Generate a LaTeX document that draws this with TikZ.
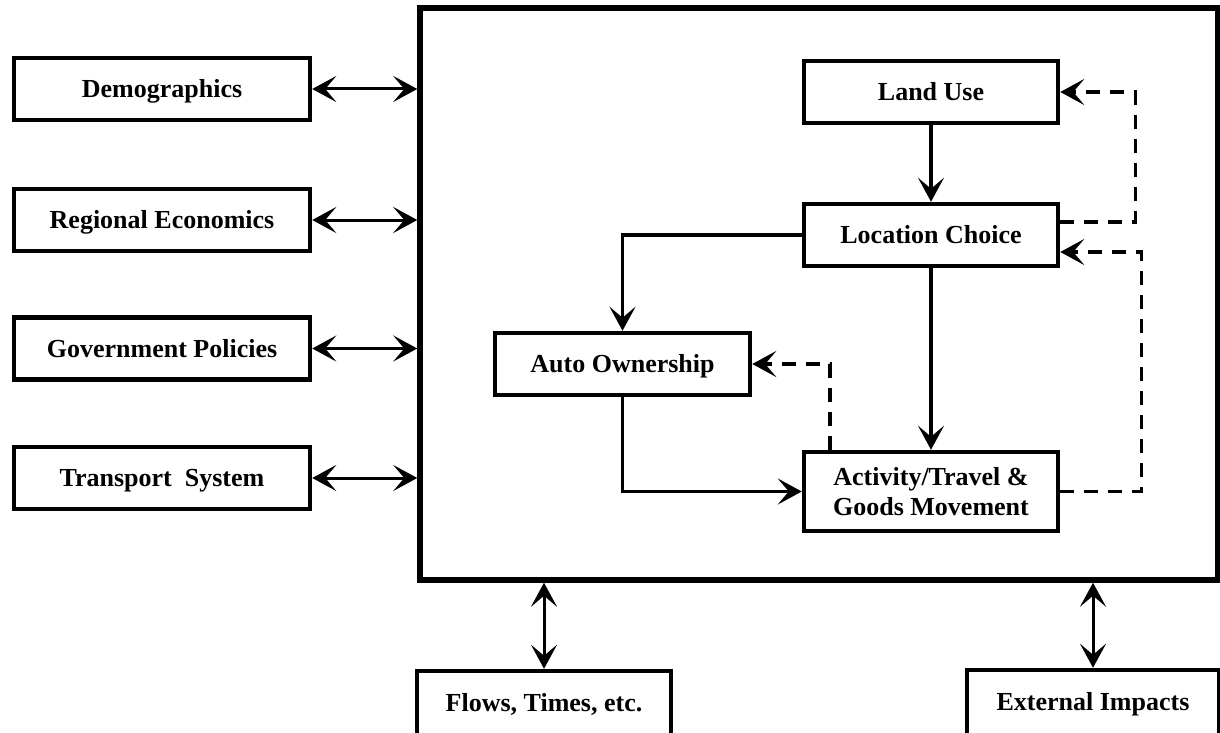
\documentclass[tikz,border=0pt]{standalone}
\usepackage{fontspec}
\setmainfont{Liberation Serif}
\usetikzlibrary{arrows.meta}
\tikzset{
  box/.style={draw, line width=4.5pt, minimum width=254pt, minimum height=62pt, inner sep=0pt,
    text height=17pt, text depth=0pt, align=center, font=\fontsize{26}{30}\selectfont\bfseries},
  link/.style={line width=3.2pt, -{Stealth[length=24pt,width=26pt,inset=11pt]}},
  twoway/.style={line width=3pt, {Stealth[length=24pt,width=26pt,inset=11pt]}-{Stealth[length=24pt,width=26pt,inset=11pt]}},
  feedback/.style={link, dash pattern=on 14pt off 10pt},
}
\begin{document}
\begin{tikzpicture}[x=1pt,y=-1pt]
\clip (0,0) rectangle (1220,733);
\node[draw, line width=5.5pt, minimum width=798pt, minimum height=572pt] (model) at (819,294) {};
\node[box, minimum width=296pt] (demo) at (162,89) {Demographics};
\node[box, minimum width=296pt] (regional) at (162,220) {Regional Economics};
\node[box, minimum width=296pt] (policy) at (162,348.5) {Government Policies};
\node[box, minimum width=296pt] (transport) at (162,478) {Transport\ \ System};
\node[box] (landuse) at (931,92) {Land Use};
\node[box] (location) at (931,235) {Location Choice};
\node[box, minimum width=255pt] (auto) at (622.5,364) {Auto Ownership};
\node[box, minimum height=79pt, text height=47pt] (activity) at (931,491.5) {Activity/Travel \&\\Goods Movement};
\node[box, minimum height=70pt, text depth=6pt] (flows) at (544,706) {Flows, Times, etc.};
\node[box, minimum height=70pt, text depth=6pt, minimum width=252pt] (impacts) at (1093,705) {External Impacts};
\draw[twoway] (demo.east) -- (demo.east -| model.west);
\draw[twoway] (regional.east) -- (regional.east -| model.west);
\draw[twoway] (policy.east) -- (policy.east -| model.west);
\draw[twoway] (transport.east) -- (transport.east -| model.west);
\draw[twoway] (flows.north) -- (flows.north |- model.south);
\draw[twoway] (impacts.north) -- (impacts.north |- model.south);
\draw[link] (landuse) -- (location);
\draw[link] (location) -- (activity);
\draw[link] (location.west) -| (auto.north);
\draw[link] (auto.south) |- (activity.west);
\draw[feedback] ([yshift=13pt]location.east) -| ([xshift=75pt]landuse.east) -- (landuse.east);
\draw[feedback] (activity.east) -| ([xshift=81pt,yshift=-17pt]location.east) -- ([yshift=-17pt]location.east);
\draw[feedback] ([xshift=-101pt]activity.north) |- (auto.east);
\end{tikzpicture}
\end{document}
